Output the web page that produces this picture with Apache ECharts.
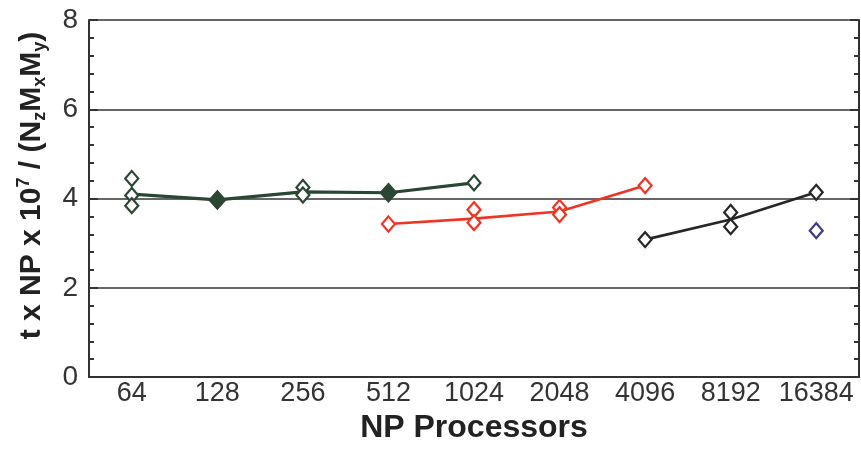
<!DOCTYPE html>
<html>
<head>
<meta charset="utf-8">
<script src="https://cdn.jsdelivr.net/npm/echarts@6/dist/echarts.min.js"></script>
<style>html,body{margin:0;padding:0;background:#fff;}#c{width:861px;height:449px;}</style>
</head>
<body>
<div id="c"></div>
<script>
const categories = ['64','128','256','512','1024','2048','4096','8192','16384'];
const yTicks = [0, 2, 4, 6, 8];
const greenLine = [4.10, 3.97, 4.15, 4.13, 4.35, null, null, null, null];
const redLine = [null, null, null, 3.43, 3.55, 3.71, 4.29, null, null];
const blackLine = [null, null, null, null, null, null, 3.08, 3.53, 4.14];
const greenOpen = [['64', 4.45], ['64', 4.07], ['64', 3.84], ['256', 4.25], ['256', 4.08], ['1024', 4.35]];
const greenFilled = [['128', 3.97], ['512', 4.13]];
const redOpen = [['512', 3.43], ['1024', 3.75], ['1024', 3.46], ['2048', 3.80], ['2048', 3.64], ['4096', 4.29]];
const blackOpen = [['4096', 3.08], ['8192', 3.69], ['8192', 3.37], ['16384', 4.14]];
const blueOpen = [['16384', 3.28]];

const GREEN = '#2c4634', RED = '#ee3524', BLACK = '#262626', BLUE = '#3b3d86', AX = '#333';
const chart = echarts.init(document.getElementById('c'));
const font = 'Liberation Sans, Arial, sans-serif';

function openScatter(data, color, z) {
  return { type: 'scatter', data: data, symbol: 'diamond', symbolSize: [13, 15], z: z,
    itemStyle: { color: '#fff', borderColor: color, borderWidth: 2.2, opacity: 1 } };
}
function line(data, color, w) {
  return { type: 'line', data: data, symbol: 'none', z: 3, connectNulls: false,
    lineStyle: { color: color, width: w } };
}
const yCommon = { type: 'value', min: yTicks[0], max: yTicks[yTicks.length - 1], interval: 2,
  axisLine: { show: true, lineStyle: { color: AX, width: 2 } },
  axisTick: { show: true, inside: true, length: 9, lineStyle: { color: AX, width: 2 } },
  minorTick: { show: true, splitNumber: 5, length: 5, lineStyle: { color: AX, width: 2 } },
};
const nm = { fontWeight: 'bold', fontFamily: font, color: '#222', lineHeight: 34 };
chart.setOption({
  animation: false,
  grid: { left: 89, right: 2, top: 20, bottom: 71 },
  xAxis: [
    { type: 'category', data: categories, boundaryGap: true, position: 'bottom',
      axisLine: { lineStyle: { color: AX, width: 2 } },
      axisTick: { alignWithLabel: true, interval: 0, inside: true, length: 9, lineStyle: { color: AX, width: 2 } },
      axisLabel: { color: '#333', fontSize: 27, fontFamily: font, margin: 3, interval: 0, hideOverlap: false },
      name: 'NP Processors', nameLocation: 'middle', nameGap: 32,
      nameTextStyle: { color: '#222', fontSize: 32, fontWeight: 'bold', fontFamily: font },
      splitLine: { show: false } },
    { type: 'category', data: categories, boundaryGap: true, position: 'top',
      axisLine: { lineStyle: { color: AX, width: 2 } },
      axisTick: { alignWithLabel: true, interval: 0, inside: true, length: 9, lineStyle: { color: AX, width: 2 } },
      axisLabel: { show: false }, splitLine: { show: false } }
  ],
  yAxis: [
    Object.assign({}, yCommon, { position: 'left',
      axisLabel: { color: '#333', fontSize: 28, fontFamily: font, margin: 11 },
      splitLine: { show: true, lineStyle: { color: '#333', width: 1.6 } },
      name: '{a|t x NP x 10}{sup|7}{a| / (N}{sub|z}{a|M}{sub|x}{a|M}{sub|y}{a|)}',
      nameLocation: 'middle', nameGap: 40, nameRotate: 90,
      nameTextStyle: { color: '#222', fontFamily: font, padding: [0, 0, 0, 26],
        rich: {
          a: Object.assign({ fontSize: 30, verticalAlign: 'middle' }, nm),
          sup: Object.assign({ fontSize: 18, verticalAlign: 'top', padding: [0, 0, 12, 0] }, nm),
          sub: Object.assign({ fontSize: 18, verticalAlign: 'bottom', padding: [12, 0, 0, 0] }, nm)
        } } }),
    Object.assign({}, yCommon, { position: 'right', axisLabel: { show: false }, splitLine: { show: false } })
  ],
  series: [
    line(greenLine, GREEN, 3.2),
    line(redLine, RED, 2.6),
    line(blackLine, BLACK, 2.6),
    openScatter(greenOpen, GREEN, 4),
    { type: 'scatter', data: greenFilled, symbol: 'diamond', symbolSize: [17, 19], z: 5,
      itemStyle: { color: GREEN, borderColor: GREEN, borderWidth: 1, opacity: 1 } },
    openScatter(redOpen, RED, 4),
    openScatter(blackOpen, BLACK, 4),
    openScatter(blueOpen, BLUE, 4)
  ]
});
</script>
</body>
</html>
